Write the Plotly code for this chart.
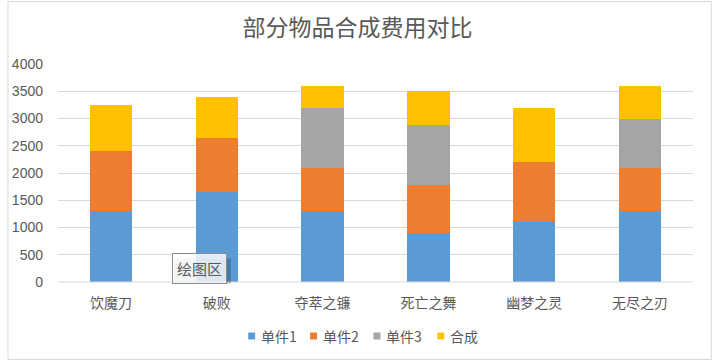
import plotly.graph_objects as go

categories = ["饮魔刀", "破败", "夺萃之镰", "死亡之舞", "幽梦之灵", "无尽之刃"]
series_names = ["单件1", "单件2", "单件3", "合成"]
part1 = [1300, 1650, 1300, 900, 1100, 1300]
part2 = [1100, 1000, 800, 875, 1100, 800]
part3 = [0, 0, 1100, 1100, 0, 900]
combine = [850, 750, 400, 625, 1000, 600]
y_ticks = [0, 500, 1000, 1500, 2000, 2500, 3000, 3500, 4000]
title_text = "部分物品合成费用对比"
tooltip_text = "绘图区"

colors = ["#5B9BD5", "#ED7D31", "#A5A5A5", "#FFC000"]
values = [part1, part2, part3, combine]

CJK = "Noto Sans CJK SC"
NUM = "Liberation Sans"
TXT = "#595959"

fig = go.Figure()
for name, vals, col in zip(series_names, values, colors):
    fig.add_trace(go.Bar(x=categories, y=vals, name=name, showlegend=False,
                         marker=dict(color=col, line=dict(width=0))))

W, H = 715, 362
L, R, T, B = 52, 22, 64, 80
pw = W - L - R
ph = H - T - B

def px_x(px):
    return (px - L) / pw

def px_y(py):
    return (H - B - py) / ph

fig.update_layout(
    width=W, height=H,
    margin=dict(l=L, r=R, t=T, b=B),
    paper_bgcolor="white", plot_bgcolor="white",
    barmode="stack", bargap=0.6,
    title=dict(text=title_text, x=0.5, xanchor="center", y=1 - 28 / H, yanchor="middle",
               font=dict(family=CJK, size=23, color=TXT)),
    xaxis=dict(showgrid=False, showline=False, ticks="", zeroline=False, ticklabelstandoff=11,
               tickfont=dict(family=CJK, size=14, color=TXT)),
    yaxis=dict(range=[0, 4000], tickvals=y_ticks, showgrid=True, gridcolor="#D9D9D9", gridwidth=1,
               zeroline=False, showline=False, ticks="", ticklabelstandoff=14,
               tickfont=dict(family=NUM, size=14, color=TXT)),
    showlegend=False,
)

# bottom axis line at 0
fig.add_shape(type="line", xref="paper", yref="paper", x0=0, x1=1, y0=0, y1=0,
              line=dict(color="#D9D9D9", width=1))

# chart outer border
fig.add_shape(type="rect", xref="paper", yref="paper",
              x0=px_x(1.5), x1=px_x(711.5), y0=px_y(359.5), y1=px_y(1.5),
              line=dict(color="#D9D9D9", width=1), fillcolor="rgba(0,0,0,0)", layer="below")

# legend (manual, Excel style small squares)
legend_x = [244, 306.5, 370.5, 435]
legend_y = 336
for name, col, lx in zip(series_names, colors, legend_x):
    fig.add_shape(type="rect", xref="paper", yref="paper",
                  x0=px_x(lx), x1=px_x(lx + 7), y0=px_y(legend_y + 3.5), y1=px_y(legend_y - 3.5),
                  line=dict(width=0), fillcolor=col)
    fig.add_annotation(text=name, xref="paper", yref="paper",
                       x=px_x(lx + 11), y=px_y(legend_y), xanchor="left", yanchor="middle",
                       showarrow=False, font=dict(family=CJK, size=14, color=TXT))

# tooltip shadow + box
fig.add_shape(type="rect", xref="paper", yref="paper",
              x0=px_x(169.5), x1=px_x(226.5), y0=px_y(283.5), y1=px_y(258.5),
              line=dict(width=0), fillcolor="rgba(0,0,0,0.22)")
fig.add_annotation(text=tooltip_text, xref="paper", yref="paper",
                   x=px_x(195), y=px_y(268), xanchor="center", yanchor="middle",
                   showarrow=False, font=dict(family=CJK, size=15, color="#595959"),
                   bgcolor="rgba(255,255,255,0.82)", bordercolor="#8C8C8C", borderwidth=1,
                   borderpad=4)

fig.write_html("out.html", config={"displayModeBar": False},
               post_script="document.body.style.margin='0';document.body.style.overflow='hidden';")
